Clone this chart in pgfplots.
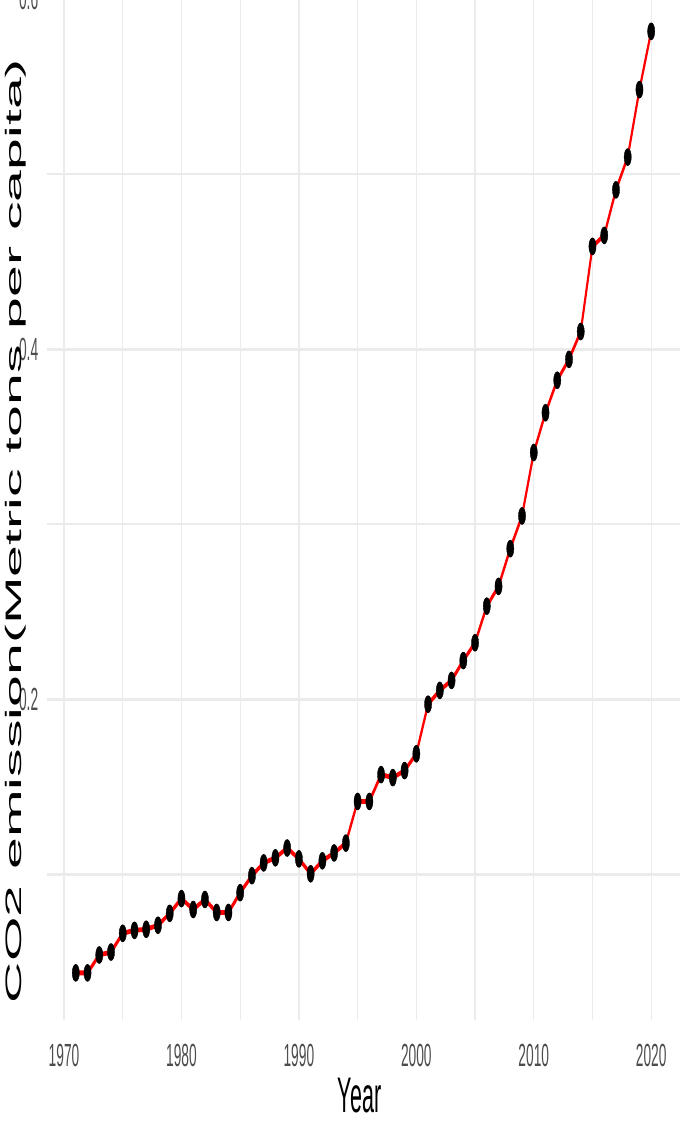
\documentclass[border=0pt]{standalone}
\usepackage{pgfplots}
\pgfplotsset{compat=1.18}
\usepackage{pgfplotstable}
\usepackage{fontspec}
\setmainfont{Liberation Sans}
\definecolor{gridgray}{HTML}{EBEBEB}
\definecolor{ticktext}{HTML}{4D4D4D}

\pgfplotstableread{
year co2
1971 0.0438
1972 0.0438
1973 0.0540
1974 0.0557
1975 0.0664
1976 0.0681
1977 0.0687
1978 0.0710
1979 0.0778
1980 0.0862
1981 0.0800
1982 0.0857
1983 0.0783
1984 0.0783
1985 0.0896
1986 0.0993
1987 0.1066
1988 0.1095
1989 0.1151
1990 0.1089
1991 0.1004
1992 0.1078
1993 0.1123
1994 0.1179
1995 0.1417
1996 0.1417
1997 0.1570
1998 0.1553
1999 0.1593
2000 0.1689
2001 0.1972
2002 0.2051
2003 0.2108
2004 0.2221
2005 0.2323
2006 0.2532
2007 0.2645
2008 0.2860
2009 0.3047
2010 0.3409
2011 0.3636
2012 0.3822
2013 0.3941
2014 0.4100
2015 0.4586
2016 0.4649
2017 0.4909
2018 0.5096
2019 0.5481
2020 0.5814
}\emissions

\begin{document}
\begin{tikzpicture}
\useasboundingbox (-23.5pt,-60.5pt) rectangle (319pt,510pt);
\begin{pgfinterruptboundingbox}
% the reference is squeezed sideways, so the whole axis is drawn wide and scaled down
\begin{scope}[transform canvas={xscale=0.43}]
\begin{axis}[
    at={(0,0)}, anchor=south west,
    scale only axis,
    width=736pt, height=518.5pt,
    xmin=1968.55, xmax=2022.45,
    ymin=0.0169, ymax=0.609,
    axis line style={draw=none},
    major tick length=0pt, minor tick length=0pt,
    xtick={1970,1980,...,2020},
    minor xtick={1975,1985,...,2015},
    ytick={0.2,0.4,0.6},
    minor ytick={0.1,0.3,0.5},
    grid=both,
    major x grid style={gridgray, line width=1.5pt},
    minor x grid style={gridgray, line width=1.3pt},
    major y grid style={gridgray, line width=1.5pt},
    minor y grid style={gridgray, line width=1.3pt},
    tick label style={font=\fontsize{16}{19}\selectfont, text=ticktext,
        /pgf/number format/assume math mode=true},
    xticklabel style={anchor=north, inner sep=0pt, yshift=-12pt,
        /pgf/number format/1000 sep={}},
    yticklabel style={anchor=east, inner sep=0pt, xshift=-10pt,
        /pgf/number format/fixed, /pgf/number format/precision=1},
    xlabel={Year},
    ylabel={CO2 emission(Metric tons per capita)},
    every axis x label/.style={at={(axis description cs:0.494,0)}, anchor=center,
        yshift=-38pt, font=\fontsize{25}{30}\selectfont},
    every axis y label/.style={at={(axis description cs:-0.049,0.4716)}, rotate=90,
        xscale=1.1, anchor=center, font=\fontsize{26}{31}\selectfont},
]
\addplot[only marks, mark=*, mark size=4.2pt, black] table[x=year, y=co2] {\emissions};
\addplot[red, line width=2.4pt, no marks] table[x=year, y=co2] {\emissions};
\end{axis}
\end{scope}
\end{pgfinterruptboundingbox}
\end{tikzpicture}
\end{document}
